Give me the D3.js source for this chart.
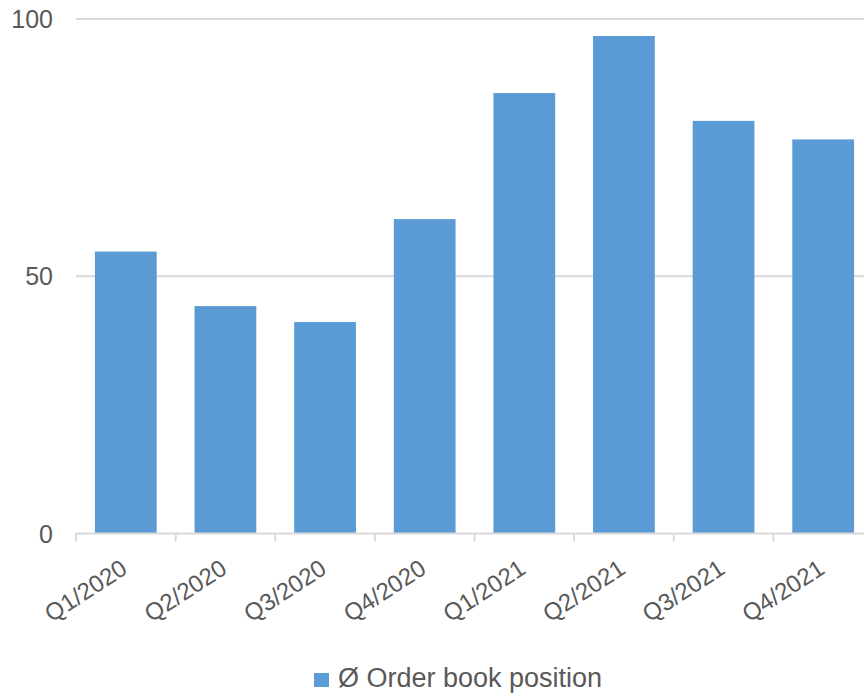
<!DOCTYPE html>
<html>
<head>
<meta charset="utf-8">
<script src="https://cdn.jsdelivr.net/npm/d3@7"></script>
<style>
  html, body { margin: 0; padding: 0; background: #ffffff; }
  svg { display: block; }
  text { font-family: "Liberation Sans", Arial, sans-serif; fill: #595959; }
</style>
</head>
<body>
<svg id="chart" width="864" height="695"></svg>
<script>
// Quarterly average order book position
const quarters = ["Q1/2020", "Q2/2020", "Q3/2020", "Q4/2020", "Q1/2021", "Q2/2021", "Q3/2021", "Q4/2021"];
const orderBook = [54.8, 44.2, 41.1, 61.1, 85.6, 96.7, 80.2, 76.6];
const yTicks = [0, 50, 100];
const seriesName = "Ø Order book position";

const svg = d3.select("#chart");
const barColor = "#5b9bd5";
const gridColor = "#d9d9d9";

const x = d3.scaleBand().domain(quarters).range([76, 873]).paddingInner(0).paddingOuter(0);
const y = d3.scaleLinear().domain([0, 100]).range([533.5, 19]);

// horizontal gridlines
svg.append("g")
  .selectAll("line")
  .data(yTicks.filter(d => d > 0))
  .join("line")
  .attr("x1", 76).attr("x2", 873)
  .attr("y1", d => y(d)).attr("y2", d => y(d))
  .attr("stroke", gridColor).attr("stroke-width", 2);

// bars
const barW = x.bandwidth() * 0.62;
svg.append("g")
  .selectAll("rect")
  .data(orderBook)
  .join("rect")
  .attr("x", (d, i) => x(quarters[i]) + (x.bandwidth() - barW) / 2)
  .attr("width", barW)
  .attr("y", d => y(d))
  .attr("height", d => y(0) - y(d))
  .attr("fill", barColor);

// y axis labels
svg.append("g")
  .selectAll("text")
  .data(yTicks)
  .join("text")
  .attr("x", 53)
  .attr("y", d => y(d) + 9)
  .attr("text-anchor", "end")
  .style("font-size", "25px")
  .text(d => d);

// x axis line and category ticks
const xAxis = svg.append("g");
xAxis.append("line")
  .attr("x1", 76).attr("x2", 873)
  .attr("y1", y(0)).attr("y2", y(0))
  .attr("stroke", gridColor).attr("stroke-width", 2);
xAxis.selectAll("line.tick")
  .data(quarters)
  .join("line")
  .attr("class", "tick")
  .attr("x1", d => x(d)).attr("x2", d => x(d))
  .attr("y1", y(0)).attr("y2", y(0) + 8)
  .attr("stroke", gridColor).attr("stroke-width", 2);

// rotated category labels
xAxis.selectAll("text")
  .data(quarters)
  .join("text")
  .attr("text-anchor", "end")
  .attr("transform", d => `translate(${x(d) + x.bandwidth() / 2 + 3},${y(0) + 39}) rotate(-33)`)
  .style("font-size", "24px")
  .text(d => d);

// legend
const legend = svg.append("g");
legend.append("rect")
  .attr("x", 314).attr("y", 673)
  .attr("width", 15).attr("height", 14)
  .attr("fill", barColor);
legend.append("text")
  .attr("x", 338).attr("y", 687)
  .style("font-size", "27px")
  .text(seriesName);
</script>
</body>
</html>
